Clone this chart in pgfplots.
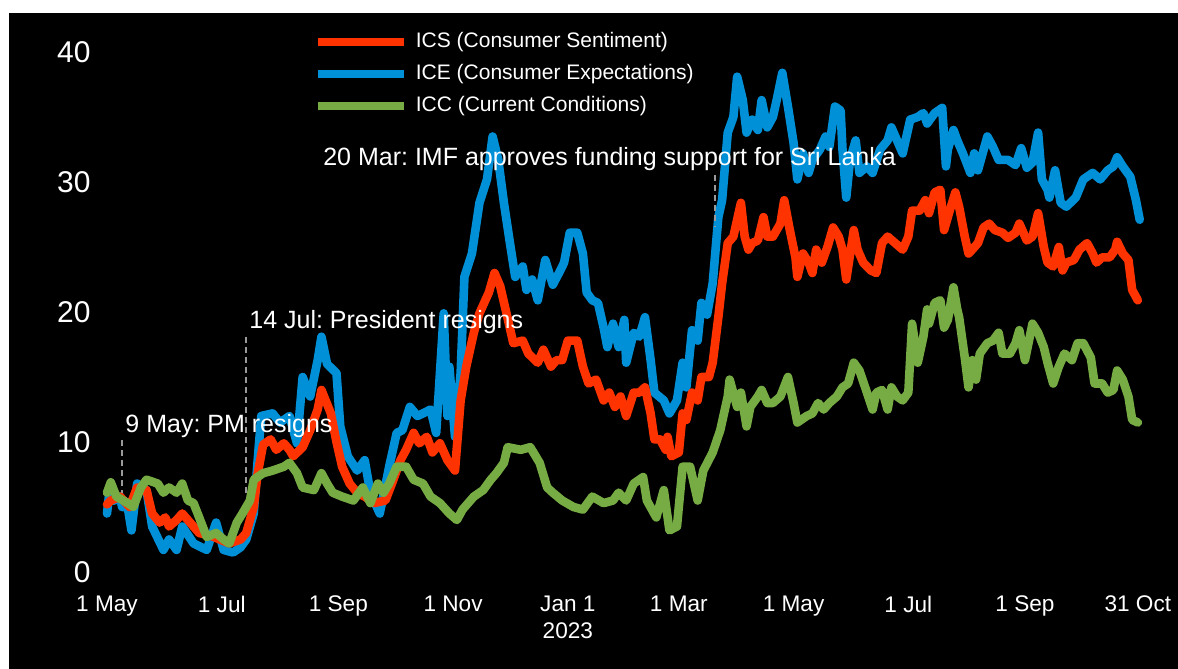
\documentclass[border=0pt]{standalone}
\usepackage{fontspec}
\setmainfont{Liberation Sans}
\usepackage{pgfplots}
\pgfplotsset{compat=1.18}
\frenchspacing

\definecolor{ics}{HTML}{FF3300}
\definecolor{ice}{HTML}{0090D8}
\definecolor{icc}{HTML}{77AC45}
\definecolor{guide}{HTML}{9A9A9A}

% x = days since 1 May 2022
\begin{document}
\begin{tikzpicture}
\path[use as bounding box, fill=white] (-48.8pt,-48.5pt) rectangle (540.2pt,286pt);
\fill[black] (-44.3pt,-48.5pt) rectangle (540.2pt,279.5pt);
\begin{axis}[
  scale only axis, width=526.7pt, height=260pt,
  xmin=-5, xmax=555, ymin=0, ymax=40,
  axis line style={draw=none}, tick style={draw=none}, major tick length=0pt,
  /pgf/number format/assume math mode=true,
  ytick={0,10,20,30,40},
  yticklabel style={font=\fontsize{15}{18}\selectfont, text=white},
  xtick={0,61,123,184,245,304,365,426,488,548},
  xticklabels={1 May,1 Jul,1 Sep,1 Nov,Jan 1\\2023,1 Mar,1 May,1 Jul,1 Sep,31 Oct},
  xticklabel style={font=\fontsize{11.3}{13.5}\selectfont, text=white, align=center, yshift=-8.5pt},
  clip=false,
  legend cell align=left,
  legend style={at={(axis cs:109.8,41.55)}, anchor=north west, draw=none, fill=none,
    text=white, font=\fontsize{10.5}{12}\selectfont, inner sep=0pt, outer sep=0pt,
    row sep=5.5pt, nodes={inner sep=0pt, text height=8pt, text depth=2.5pt}},
  legend image code/.code={\draw[line width=4pt, line cap=butt] (0pt,0pt) -- (43pt,0pt); \path (47pt,0pt);},
  every axis plot/.append style={line width=4.3pt, line join=round, line cap=round, mark=none},
]
% ICE
\addplot[ice, forget plot] coordinates {
(0,4.5) (1,5.8) (3,5.5) (4,5.5) (7,5.8) (8,5.0) (11,5.0) (13,3.2) (16,6.8) (21,6.3)
(24,3.5) (30,1.7) (33,2.5) (37,1.7) (40,3.5) (46,2.2) (53,1.7) (58,3.8) (62,1.7) (67,1.5)
(71,1.9) (74,2.5) (78,4.5) (80,8.4) (82,12.0) (88,12.2) (92,11.5) (97,12.0) (101,9.9) (104,15.0)
(108,13.5) (112,16.3) (114,18.1) (117,16.0) (122,15.3) (124,11.2) (128,8.9) (133,7.8) (137,8.6) (140,6.1)
(145,4.5) (150,8.1) (154,10.7) (157,10.9) (161,12.7) (165,12.0) (168,12.2) (172,12.5) (175,10.7) (179,19.9)
(181,12.0) (182,15.8) (185,10.4) (188,15.3) (190,22.7) (194,24.5) (198,28.4) (202,30.2) (205,33.5) (208,31.7)
(211,28.4) (214,25.5) (217,22.7) (221,23.5) (223,21.7) (226,22.5) (229,20.9) (233,24.0) (237,22.1) (241,23.2)
(243,23.8) (246,26.1) (250,26.1) (253,24.5) (255,21.5) (258,20.9) (261,20.7) (264,18.8) (266,17.3) (269,19.1)
(272,17.3) (275,19.4) (276,16.1) (280,18.4) (283,18.1) (286,19.6) (289,16.3) (291,13.8) (296,13.2) (299,12.2)
(303,13.2) (306,16.1) (308,14.2) (311,18.6) (314,17.8) (316,20.7) (319,19.8) (322,22.2) (325,27.3) (327,28.6)
(330,33.8) (333,35.0) (335,38.1) (338,36.3) (340,33.8) (343,34.8) (346,34.0) (348,36.3) (351,34.2) (354,35.0)
(356,36.3) (359,38.4) (362,35.8) (365,33.0) (367,30.2) (370,32.2) (373,30.7) (375,31.7) (379,32.5) (382,33.5)
(384,32.7) (387,35.8) (390,35.5) (391,32.5) (393,28.8) (395,31.7) (398,33.2) (400,30.7) (404,31.2) (407,30.7)
(411,32.5) (415,33.2) (417,34.2) (420,33.2) (423,32.2) (427,34.8) (431,35.0) (434,35.3) (436,34.5) (440,35.3)
(444,35.7) (446,31.2) (447,32.5) (450,34.0) (452,33.2) (455,32.2) (459,30.7) (461,32.2) (463,30.9) (468,33.5)
(471,32.7) (474,31.7) (479,31.7) (483,31.3) (486,32.6) (489,31.1) (492,31.5) (495,33.8) (497,30.2) (500,29.4)
(501,28.8) (504,30.9) (507,28.4) (510,28.1) (515,28.8) (519,30.2) (524,30.7) (528,30.2) (532,30.9) (535,31.2)
(537,31.9) (540,31.2) (544,30.4) (547,28.6) (549,27.1)
};
% ICS
\addplot[ics, forget plot] coordinates {
(0,5.2) (2,5.5) (7,5.8) (12,5.0) (16,6.5) (21,6.3) (24,4.5) (28,3.8) (31,4.2) (33,3.5)
(37,4.0) (40,4.5) (46,3.5) (49,3.0) (55,2.8) (60,2.5) (65,2.2) (71,2.5) (74,3.0) (78,5.0)
(80,7.5) (83,9.8) (87,10.2) (90,9.4) (94,9.9) (97,9.4) (99,8.9) (104,9.6) (108,10.9) (112,12.5)
(114,14.0) (119,12.2) (122,10.0) (125,8.1) (129,6.8) (133,6.1) (137,5.8) (142,5.3) (148,5.5) (152,7.0)
(156,8.6) (159,9.4) (163,10.7) (166,9.9) (170,10.4) (173,9.2) (177,9.9) (181,8.6) (185,7.8) (188,13.2)
(191,15.8) (195,18.4) (198,19.9) (203,21.5) (206,23.0) (209,22.0) (213,19.5) (216,17.6) (221,17.8) (224,16.8)
(229,16.1) (232,17.1) (236,15.8) (239,16.3) (242,16.3) (245,17.8) (250,17.8) (253,15.8) (256,14.5) (260,14.8)
(264,13.2) (267,13.8) (270,12.7) (273,13.5) (276,12.0) (280,13.8) (283,13.8) (286,14.2) (289,12.2) (291,10.2)
(294,10.2) (297,9.4) (298,10.4) (300,8.9) (304,9.2) (306,12.2) (308,11.7) (311,13.8) (314,13.2) (316,15.0)
(320,15.0) (322,16.1) (325,19.6) (327,22.2) (330,25.3) (333,25.8) (337,28.4) (339,25.8) (341,24.8) (343,25.3)
(346,25.5) (349,27.3) (351,25.8) (354,25.8) (358,26.8) (360,28.6) (363,26.3) (366,24.2) (367,22.7) (370,24.5)
(373,23.8) (375,23.0) (377,24.8) (380,23.8) (383,25.0) (386,26.5) (389,25.8) (391,24.8) (393,22.5) (397,26.3)
(399,24.8) (402,23.8) (406,23.2) (409,23.0) (412,25.3) (415,25.8) (419,25.3) (423,24.8) (426,25.8) (428,27.8)
(432,27.8) (435,28.6) (437,27.6) (440,29.2) (443,29.4) (445,26.3) (448,27.8) (451,29.2) (453,28.1) (456,25.8)
(458,24.5) (460,24.8) (463,25.3) (466,26.5) (469,26.8) (472,26.3) (476,26.1) (479,25.7) (483,26.1) (485,26.8)
(489,25.5) (492,25.8) (495,27.6) (498,25.0) (500,23.8) (503,23.5) (506,25.0) (508,23.2) (510,23.8) (514,24.0)
(517,24.8) (521,25.3) (524,24.5) (526,23.8) (529,24.2) (533,24.2) (536,24.8) (537,25.4) (540,24.5) (543,24.0)
(545,21.7) (548,20.9)
};
% ICC
\addplot[icc, forget plot] coordinates {
(0,6.1) (2,6.9) (5,5.8) (11,5.3) (14,5.0) (18,6.5) (21,7.1) (27,6.8) (30,6.1) (33,6.5)
(37,6.1) (40,6.8) (43,5.5) (46,5.3) (49,4.2) (53,2.7) (58,3.0) (62,2.5) (65,2.2) (69,3.8)
(72,4.5) (76,5.5) (78,7.1) (83,7.6) (88,7.8) (94,8.1) (97,8.4) (101,7.6) (104,6.5) (110,6.3)
(114,7.6) (117,6.8) (120,6.1) (125,5.8) (131,5.5) (136,6.5) (140,5.3) (144,6.8) (147,6.1) (150,6.8)
(154,8.1) (159,8.1) (163,7.1) (168,6.8) (172,5.8) (177,5.3) (182,4.5) (186,4.0) (189,4.8) (195,5.8)
(200,6.3) (204,7.1) (207,7.6) (211,8.4) (213,9.6) (220,9.4) (225,9.6) (230,8.4) (234,6.5) (237,6.1)
(242,5.5) (248,5.0) (253,4.8) (258,5.8) (264,5.3) (269,5.5) (272,6.1) (276,5.5) (280,6.8) (285,7.3)
(287,5.5) (292,4.2) (296,6.3) (299,3.2) (303,3.5) (306,8.1) (310,8.1) (314,5.5) (317,7.8) (322,9.2)
(326,10.9) (330,13.5) (331,14.8) (335,12.7) (337,13.8) (340,11.2) (342,12.7) (346,13.5) (348,14.0) (351,13.0)
(354,13.0) (358,13.5) (362,15.0) (365,13.0) (367,11.5) (372,12.0) (375,12.2) (378,13.0) (381,12.5) (384,13.0)
(388,13.5) (391,14.2) (394,14.5) (397,16.1) (400,15.5) (404,13.8) (407,12.5) (409,13.8) (412,14.0) (415,12.5)
(417,14.2) (420,13.5) (423,13.2) (426,13.8) (428,19.1) (431,16.1) (434,18.1) (436,20.2) (437,19.1) (440,20.7)
(443,20.9) (445,18.8) (447,19.4) (450,21.9) (452,20.2) (453,19.6) (456,16.5) (458,14.2) (460,16.3) (462,14.8)
(464,16.8) (468,17.6) (471,17.8) (474,18.4) (476,16.8) (480,16.8) (483,17.6) (485,18.6) (488,16.3) (491,18.4)
(492,19.1) (495,18.4) (498,17.3) (500,16.1) (503,14.5) (506,15.8) (509,16.8) (513,16.3) (516,17.6) (519,17.6)
(523,16.5) (525,14.5) (529,14.5) (532,13.8) (535,14.0) (537,15.5) (540,14.8) (543,13.5) (545,11.7) (548,11.5)
};
\addlegendimage{ics}
\addlegendentry{ICS (Consumer Sentiment)}
\addlegendimage{ice}
\addlegendentry{ICE (Consumer Expectations)}
\addlegendimage{icc}
\addlegendentry{ICC (Current Conditions)}

\draw[guide, line width=1pt, dash pattern=on 3pt off 2pt] (axis cs:8,10.15) -- (axis cs:8,6.1);
\draw[guide, line width=1pt, dash pattern=on 3pt off 2pt] (axis cs:74,18.1) -- (axis cs:74,6.1);
\draw[guide, line width=1pt, dash pattern=on 3pt off 2pt] (axis cs:323,30.5) -- (axis cs:323,26.5);
\node[anchor=base west, inner sep=0pt, text=white, font=\fontsize{12.5}{15}\selectfont] at (axis cs:9.6,10.7) {9 May: PM resigns};
\node[anchor=base west, inner sep=0pt, text=white, font=\fontsize{12.5}{15}\selectfont] at (axis cs:75.5,18.7) {14 Jul: President resigns};
\node[anchor=base west, inner sep=0pt, text=white, font=\fontsize{12.5}{15}\selectfont] at (axis cs:114.8,31.3) {20 Mar: IMF approves funding support for Sri Lanka};
\end{axis}
\end{tikzpicture}
\end{document}
